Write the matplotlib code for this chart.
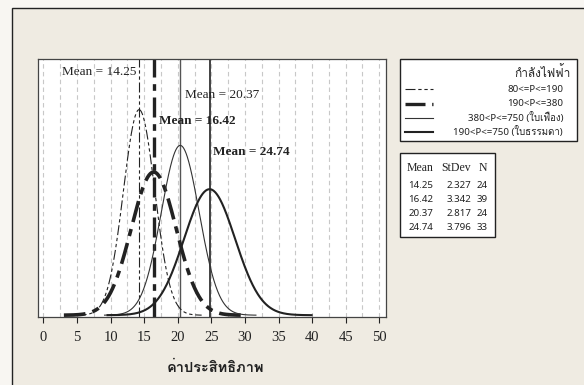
import numpy as np
import matplotlib
matplotlib.use("Agg")
import matplotlib.pyplot as plt
from matplotlib import font_manager, ft2font
from matplotlib.patches import Rectangle
from matplotlib.lines import Line2D

# ---- data ----
groups = ["80<=P<=190", "190<P<=380", "380<P<=750 (ใบเฟือง)", "190<P<=750 (ใบธรรมดา)"]
means = [14.25, 16.42, 20.37, 24.74]
stdevs = [2.327, 3.342, 2.817, 3.796]
counts = [24, 39, 24, 33]
mean_labels = ["Mean = 14.25", "Mean = 16.42", "Mean = 20.37", "Mean = 24.74"]
xticks = [0, 5, 10, 15, 20, 25, 30, 35, 40, 45, 50]
legend_title = "กำลังไฟฟ้า"
xlabel = "ค่าประสิทธิภาพ"


def find_thai():
    for f in font_manager.fontManager.ttflist:
        try:
            ft = ft2font.FT2Font(f.fname)
            if ord('ก') in ft.get_charmap():
                return f.name
        except Exception:
            pass
    return None

thai = find_thai()
serif = ["Liberation Serif", "DejaVu Serif"] + ([thai] if thai else [])
sans = ["Noto Sans", "DejaVu Sans"] + ([thai] if thai else [])
thaif = ([thai] if thai else []) + ["DejaVu Sans"]

W, H = 584, 385
fig = plt.figure(figsize=(W / 100, H / 100), dpi=100)
fig.patch.set_facecolor("#f8f6f2")

def fx(px):
    return px / W

def fy(py):
    return 1 - py / H

# beige panel with frame
fig.patches.append(Rectangle((fx(12), fy(400)), fx(600), fy(8) - fy(400),
                             transform=fig.transFigure, facecolor="#efebe2",
                             edgecolor="#222222", linewidth=1.0, zorder=-5))

ax = fig.add_axes([fx(38), fy(317), fx(386) - fx(38), fy(59) - fy(317)])
ax.set_zorder(1)
ax.set_facecolor("white")
ax.set_xlim(-0.8, 51.0)
ax.set_ylim(-0.0015, 0.2137)

for g in np.arange(0, 50.01, 2.5):
    ax.axvline(g, color="#c8c8c8", lw=0.8, ls=(0, (4, 3)), zorder=1)

styles = [
    dict(color="#222222", lw=0.8, ls=(0, (9, 2.5, 3, 2.5, 3, 2.5))),
    dict(color="#222222", lw=2.6, ls=(0, (6, 2, 2, 2))),
    dict(color="#333333", lw=0.8, ls="-"),
    dict(color="#222222", lw=1.5, ls="-"),
]
vstyles = [
    dict(color="#222222", lw=0.8, ls=(0, (9, 2.5, 3, 2.5, 3, 2.5))),
    dict(color="#222222", lw=2.4, ls=(0, (6, 2, 2, 2))),
    dict(color="#555555", lw=1.0, ls="-"),
    dict(color="#333333", lw=1.3, ls="-"),
]

for m, s, st, vst in zip(means, stdevs, styles, vstyles):
    x = np.linspace(m - 4 * s, m + 4 * s, 400)
    y = np.exp(-0.5 * ((x - m) / s) ** 2) / (s * np.sqrt(2 * np.pi))
    ax.plot(x, y, zorder=3, **st)
    ax.axvline(m, zorder=2, **vst)

ax.set_xticks(xticks)
ax.set_yticks([])
ax.tick_params(axis="x", direction="out", length=4, width=0.8, pad=6,
               labelsize=10.5, colors="#222222")
for lab in ax.get_xticklabels():
    lab.set_family(serif)
for sp in ax.spines.values():
    sp.set_color("#444444")
    sp.set_linewidth(0.9)

# mean annotations (figure pixel positions)
ann = [
    (mean_labels[0], 62, 72, "normal"),
    (mean_labels[2], 185, 95, "normal"),
    (mean_labels[1], 159, 121, "bold"),
    (mean_labels[3], 213, 152, "bold"),
]
for txt, px, py, wt in ann:
    fig.text(fx(px), fy(py), txt, family=serif, fontsize=9.5, weight=wt,
             ha="left", va="center", color="#222222", zorder=5)

fig.text(fx(216), fy(368), xlabel, family=thaif,
         fontsize=10.5, weight="bold", ha="center", va="center", color="#222222")

# legend box
fig.patches.append(Rectangle((fx(400), fy(141)), fx(577) - fx(400), fy(59) - fy(141),
                             transform=fig.transFigure, facecolor="white",
                             edgecolor="#222222", linewidth=1.0, zorder=2))
fig.text(fx(571), fy(72), legend_title, family=thaif,
         fontsize=8.5, ha="right", va="center", color="#222222")
ly = [89, 104, 118, 132]
for yy, st, g in zip(ly, styles, groups):
    lw = st["lw"]
    fig.lines.append(Line2D([fx(405), fx(433)], [fy(yy), fy(yy)], transform=fig.transFigure,
                            color=st["color"], lw=min(lw, 2.4),
                            ls=st["ls"], zorder=3))
    fig.text(fx(563), fy(yy), g, family=sans, fontsize=7, ha="right",
             va="center", color="#222222")

# stats box
fig.patches.append(Rectangle((fx(400), fy(237)), fx(495) - fx(400), fy(153) - fy(237),
                             transform=fig.transFigure, facecolor="white",
                             edgecolor="#222222", linewidth=1.0, zorder=2))
fig.text(fx(433), fy(168), "Mean", family=serif, fontsize=8.5, ha="right", va="center", color="#222222")
fig.text(fx(471), fy(168), "StDev", family=serif, fontsize=8.5, ha="right", va="center", color="#222222")
fig.text(fx(487), fy(168), "N", family=serif, fontsize=8.5, ha="right", va="center", color="#222222")
ry = [186, 200, 214, 228]
for yy, m, s, n in zip(ry, means, stdevs, counts):
    fig.text(fx(433), fy(yy), f"{m:.2f}", family=sans, fontsize=7, ha="right", va="center", color="#222222")
    fig.text(fx(471), fy(yy), f"{s:.3f}", family=sans, fontsize=7, ha="right", va="center", color="#222222")
    fig.text(fx(488), fy(yy), f"{n}", family=sans, fontsize=7, ha="right", va="center", color="#222222")

fig.savefig("out.png", dpi=100, facecolor=fig.get_facecolor())
